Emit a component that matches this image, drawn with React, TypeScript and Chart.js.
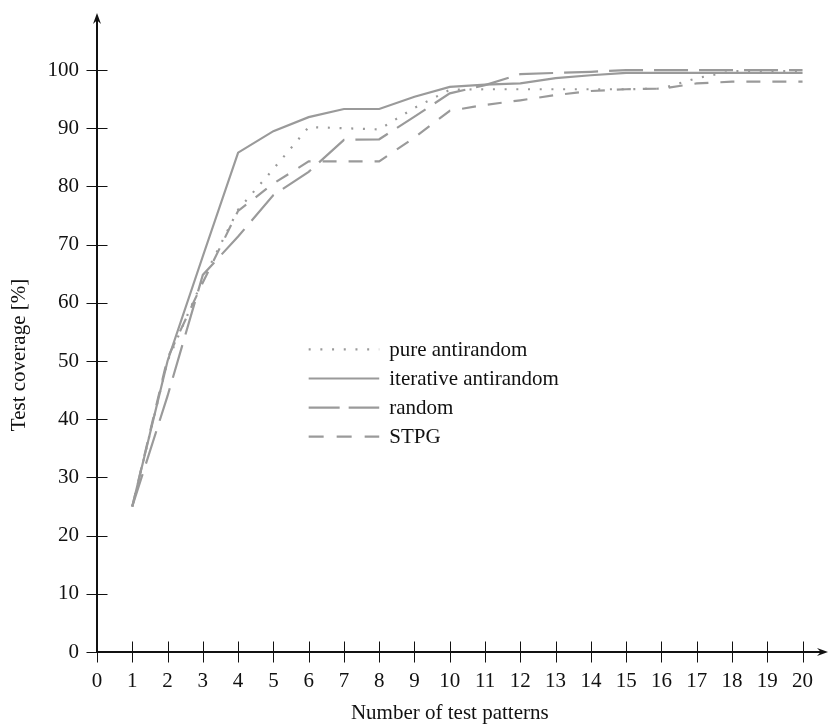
import { useEffect, useRef } from 'react';
import { Chart, registerables } from 'chart.js';

Chart.register(...registerables);

// ---- data ----
const patterns = [1, 2, 3, 4, 5, 6, 7, 8, 9, 10, 11, 12, 13, 14, 15, 16, 17, 18, 19, 20];
const pureAntirandom = [25, 50, 64, 76, 83, 90.2, 90, 89.8, 93.5, 96.6, 96.7, 96.7, 96.7, 96.7, 96.7, 96.8, 98.6, 99.8, 99.8, 99.8];
const iterativeAntirandom = [25, 50, 68, 85.8, 89.5, 91.9, 93.3, 93.3, 95.4, 97.1, 97.5, 97.7, 98.6, 99.1, 99.5, 99.5, 99.5, 99.5, 99.5, 99.5];
const randomPatterns = [25, 44, 64.8, 71.4, 78.5, 82.5, 88, 88.1, 92, 96, 97.4, 99.3, 99.5, 99.7, 100, 100, 100, 100, 100, 100];
const stpg = [25, 50.5, 63.5, 75.8, 80.5, 84.3, 84.3, 84.3, 88.4, 93, 94, 94.8, 95.7, 96.4, 96.7, 96.8, 97.7, 98, 98, 98];
const seriesLabels = ['pure antirandom', 'iterative antirandom', 'random', 'STPG'];
const xTickValues = [0, 1, 2, 3, 4, 5, 6, 7, 8, 9, 10, 11, 12, 13, 14, 15, 16, 17, 18, 19, 20];
const yTickValues = [0, 10, 20, 30, 40, 50, 60, 70, 80, 90, 100];
const xTitle = 'Number of test patterns';
const yTitle = 'Test coverage [%]';

const FONT = '"Liberation Serif", "Times New Roman", serif';
const LINE = '#9a9a9a';
const INK = '#111111';

const dashes = [[2, 9.7], [], [34, 11], [14, 12]];
const legendDashes = [[2, 9.7], [], [31, 9], [15, 13]];

function toXY(values: number[]) {
  return values.map((v, i) => ({ x: patterns[i], y: v }));
}

function drawArrow(ctx: CanvasRenderingContext2D, tx: number, ty: number, dx: number, dy: number) {
  const len = 11;
  const half = 4;
  const px = -dy;
  const py = dx;
  const bx = tx - dx * len;
  const by = ty - dy * len;
  ctx.beginPath();
  ctx.moveTo(tx, ty);
  ctx.lineTo(bx + px * half, by + py * half);
  ctx.lineTo(tx - dx * len * 0.65, ty - dy * len * 0.65);
  ctx.lineTo(bx - px * half, by - py * half);
  ctx.closePath();
  ctx.fill();
}

const decorPlugin = {
  id: 'decor',
  afterDraw(chart: any) {
    const { ctx, chartArea, scales } = chart;
    const xs = scales.x;
    const ys = scales.y;
    const x0 = xs.getPixelForValue(0);
    const y0 = ys.getPixelForValue(0);
    ctx.save();
    // ticks
    ctx.strokeStyle = INK;
    ctx.lineWidth = 1;
    ctx.beginPath();
    for (const v of xTickValues) {
      const px = Math.round(xs.getPixelForValue(v)) + 0.5;
      ctx.moveTo(px, y0 - 10.5);
      ctx.lineTo(px, y0 + 10.5);
    }
    for (const v of yTickValues) {
      const py = Math.round(ys.getPixelForValue(v)) + 0.5;
      ctx.moveTo(x0 - 10.5, py);
      ctx.lineTo(x0 + 10.5, py);
    }
    ctx.stroke();
    // axes
    ctx.lineWidth = 2;
    ctx.beginPath();
    ctx.moveTo(x0, y0);
    ctx.lineTo(x0, chartArea.top + 6);
    ctx.moveTo(x0, y0);
    ctx.lineTo(chartArea.right - 7, y0);
    ctx.stroke();
    ctx.fillStyle = INK;
    drawArrow(ctx, x0, chartArea.top, 0, -1);
    drawArrow(ctx, chartArea.right - 1, y0, 1, 0);

    // titles
    ctx.font = `21px ${FONT}`;
    ctx.fillStyle = INK;
    ctx.textAlign = 'center';
    ctx.textBaseline = 'alphabetic';
    const xMid = (xs.getPixelForValue(0) + xs.getPixelForValue(20)) / 2;
    ctx.fillText(xTitle, xMid, 719);
    ctx.save();
    ctx.translate(24.5, 355);
    ctx.rotate(-Math.PI / 2);
    ctx.fillText(yTitle, 0, 0);
    ctx.restore();

    // legend
    const rows = [52, 47, 42, 37];
    const lx0 = xs.getPixelForValue(6);
    const lx1 = xs.getPixelForValue(8);
    ctx.textAlign = 'left';
    ctx.textBaseline = 'middle';
    rows.forEach((r, i) => {
      const py = ys.getPixelForValue(r);
      ctx.strokeStyle = LINE;
      ctx.lineWidth = 2.2;
      ctx.setLineDash(legendDashes[i]);
      ctx.beginPath();
      ctx.moveTo(lx0, py);
      ctx.lineTo(lx1, py);
      ctx.stroke();
      ctx.setLineDash([]);
      ctx.fillStyle = INK;
      ctx.fillText(seriesLabels[i], lx1 + 10, py + 1);
    });
    ctx.restore();
  },
};

export default function App() {
  const ref = useRef<HTMLCanvasElement | null>(null);
  useEffect(() => {
    document.body.style.margin = '0';
    const canvas = ref.current;
    if (!canvas) return;
    const seriesData = [pureAntirandom, iterativeAntirandom, randomPatterns, stpg];
    const chart = new Chart(canvas, {
      type: 'line',
      data: {
        datasets: seriesData.map((d, i) => ({
          label: seriesLabels[i],
          data: toXY(d),
          borderColor: LINE,
          borderWidth: 2.2,
          borderDash: dashes[i],
          pointRadius: 0,
          tension: 0,
          fill: false,
        })),
      },
      options: {
        animation: false,
        responsive: false,
        devicePixelRatio: 1,
        layout: { padding: { top: 13, left: 0, right: 0, bottom: 0 } },
        plugins: { legend: { display: false }, tooltip: { enabled: false } },
        scales: {
          x: {
            type: 'linear',
            min: 0,
            max: 20.75,
            grid: { display: false, drawTicks: false },
            border: { display: false },
            afterBuildTicks: (s: any) => {
              s.ticks = xTickValues.map((v) => ({ value: v }));
            },
            afterFit: (s: any) => {
              s.height = 74;
              s.paddingLeft = 0;
              s.paddingRight = 0;
              s.paddingTop = 0;
              s.paddingBottom = 0;
            },
            ticks: {
              autoSkip: false,
              maxRotation: 0,
              padding: 17,
              color: INK,
              font: { family: FONT, size: 21 },
              callback: (v: any) => String(v),
            },
          },
          y: {
            type: 'linear',
            min: 0,
            max: 109.8,
            grid: { display: false, drawTicks: false },
            border: { display: false },
            afterBuildTicks: (s: any) => {
              s.ticks = yTickValues.map((v) => ({ value: v }));
            },
            afterFit: (s: any) => {
              s.width = 97;
              s.paddingLeft = 0;
              s.paddingRight = 0;
              s.paddingTop = 0;
              s.paddingBottom = 0;
            },
            ticks: {
              autoSkip: false,
              padding: 18,
              color: INK,
              font: { family: FONT, size: 21 },
              callback: (v: any) => String(v),
            },
          },
        },
      },
      plugins: [decorPlugin],
    } as any);
    return () => chart.destroy();
  }, []);
  return (
    <div style={{ width: 829, height: 726 }}>
      <canvas ref={ref} width={829} height={726} style={{ display: 'block' }} />
    </div>
  );
}
